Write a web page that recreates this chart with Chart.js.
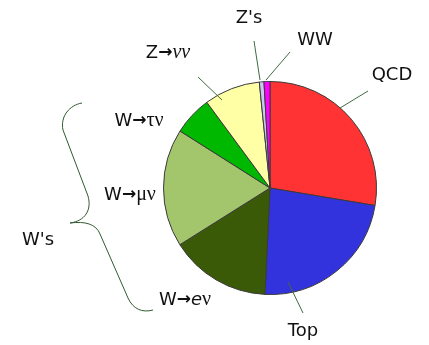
<!DOCTYPE html>
<html>
<head>
<meta charset="utf-8">
<script src="https://cdn.jsdelivr.net/npm/chart.js@4.4.1/dist/chart.umd.min.js"></script>
<style>
  html, body { margin: 0; padding: 0; background: #ffffff; }
</style>
</head>
<body>
<canvas id="pastel" width="429" height="345"></canvas>
<script>
// canales de fondo, en sentido horario desde las 12
const canales = ['QCD', 'Top', 'W→eν', 'W→μν', 'W→τν', 'Z→νν', "Z's", 'WW'];
const fracciones = [27.6, 23.1, 15.3, 17.9, 5.9, 8.5, 0.7, 0.9];
const colores = ['#ff3333', '#3333dd', '#3a5a08', '#a3c66c', '#00b800', '#ffffa6', '#c8c8f0', '#ff00ff'];

const SANS = '"DejaVu Sans", sans-serif';
const SERIF = '"Liberation Serif", serif';

// como se escribe cada etiqueta (trozos con su fuente) y donde va, relativo al centro del pastel
const etiquetas = [
    { trozos: [['QCD', '18px ' + SANS]], dx: 122, dy: -113, linea: [98, -97, 70, -80] },
    { trozos: [['Top', '18px ' + SANS]], dx: 33, dy: 143, linea: [33, 125, 18, 94] },
    { trozos: [['W', '18px ' + SANS], ['→', 'bold 17px ' + SANS], ['e', 'italic 18px ' + SANS], ['ν', '20px ' + SERIF]], dx: -85, dy: 112 },
    { trozos: [['W', '18px ' + SANS], ['→', 'bold 17px ' + SANS], ['μν', '20px ' + SERIF]], dx: -140, dy: 7 },
    { trozos: [['W', '18px ' + SANS], ['→', 'bold 17px ' + SANS], ['τν', '20px ' + SERIF]], dx: -131, dy: -67 },
    { trozos: [['Z', '18px ' + SANS], ['→', 'bold 17px ' + SANS], ['νν', 'italic 20px ' + SERIF]], dx: -102, dy: -135, linea: [-72, -111, -48, -88] },
    { trozos: [["Z's", '18px ' + SANS]], dx: -21, dy: -170, linea: [-16, -147, -10, -108] },
    { trozos: [['WW', '18px ' + SANS]], dx: 45, dy: -148, linea: [20, -136, -4, -108] },
    { trozos: [["W's", '18px ' + SANS]], dx: -232, dy: 52 }
];

function textoMixto(ctx, trozos, x, y) {
    let total = 0;
    trozos.forEach(([t, f]) => { ctx.font = f; total += ctx.measureText(t).width; });
    let px = x - total / 2;
    trozos.forEach(([t, f]) => {
        ctx.font = f;
        ctx.fillText(t, px, y);
        px += ctx.measureText(t).width;
    });
}

const anotaciones = {
    id: 'anotaciones',
    afterDatasetsDraw(chart) {
        const arco = chart.getDatasetMeta(0).data[0];
        const cx = arco.x, cy = arco.y;
        const ctx = chart.ctx;
        ctx.save();

        // lineas guia
        ctx.strokeStyle = '#3d6b3d';
        ctx.lineWidth = 1;
        etiquetas.forEach(e => {
            if (!e.linea) return;
            const [x0, y0, x1, y1] = e.linea;
            ctx.beginPath();
            ctx.moveTo(cx + x0, cy + y0);
            ctx.lineTo(cx + x1, cy + y1);
            ctx.stroke();
        });

        // llave que agrupa las W
        ctx.strokeStyle = '#2f5a2f';
        ctx.beginPath();
        ctx.moveTo(cx - 188, cy - 85);
        ctx.bezierCurveTo(cx - 200, cy - 83, cx - 210, cy - 72, cx - 207, cy - 58);
        ctx.lineTo(cx - 182, cy + 8);
        ctx.bezierCurveTo(cx - 178, cy + 22, cx - 185, cy + 33, cx - 200, cy + 35);
        ctx.bezierCurveTo(cx - 185, cy + 33, cx - 174, cy + 36, cx - 170, cy + 46);
        ctx.lineTo(cx - 142, cy + 110);
        ctx.bezierCurveTo(cx - 137, cy + 121, cx - 128, cy + 125, cx - 117, cy + 122);
        ctx.stroke();

        // textos
        ctx.fillStyle = '#111111';
        ctx.textBaseline = 'middle';
        etiquetas.forEach(e => textoMixto(ctx, e.trozos, cx + e.dx, cy + e.dy));
        ctx.restore();
    }
};

new Chart(document.getElementById('pastel'), {
    type: 'pie',
    data: {
        labels: canales,
        datasets: [{
            data: fracciones,
            backgroundColor: colores,
            borderColor: '#3a3a3a',
            borderWidth: 1
        }]
    },
    options: {
        responsive: false,
        animation: false,
        layout: { padding: { left: 163, right: 52, top: 81, bottom: 50 } },
        plugins: {
            legend: { display: false },
            tooltip: { enabled: false }
        }
    },
    plugins: [anotaciones]
});
</script>
</body>
</html>
